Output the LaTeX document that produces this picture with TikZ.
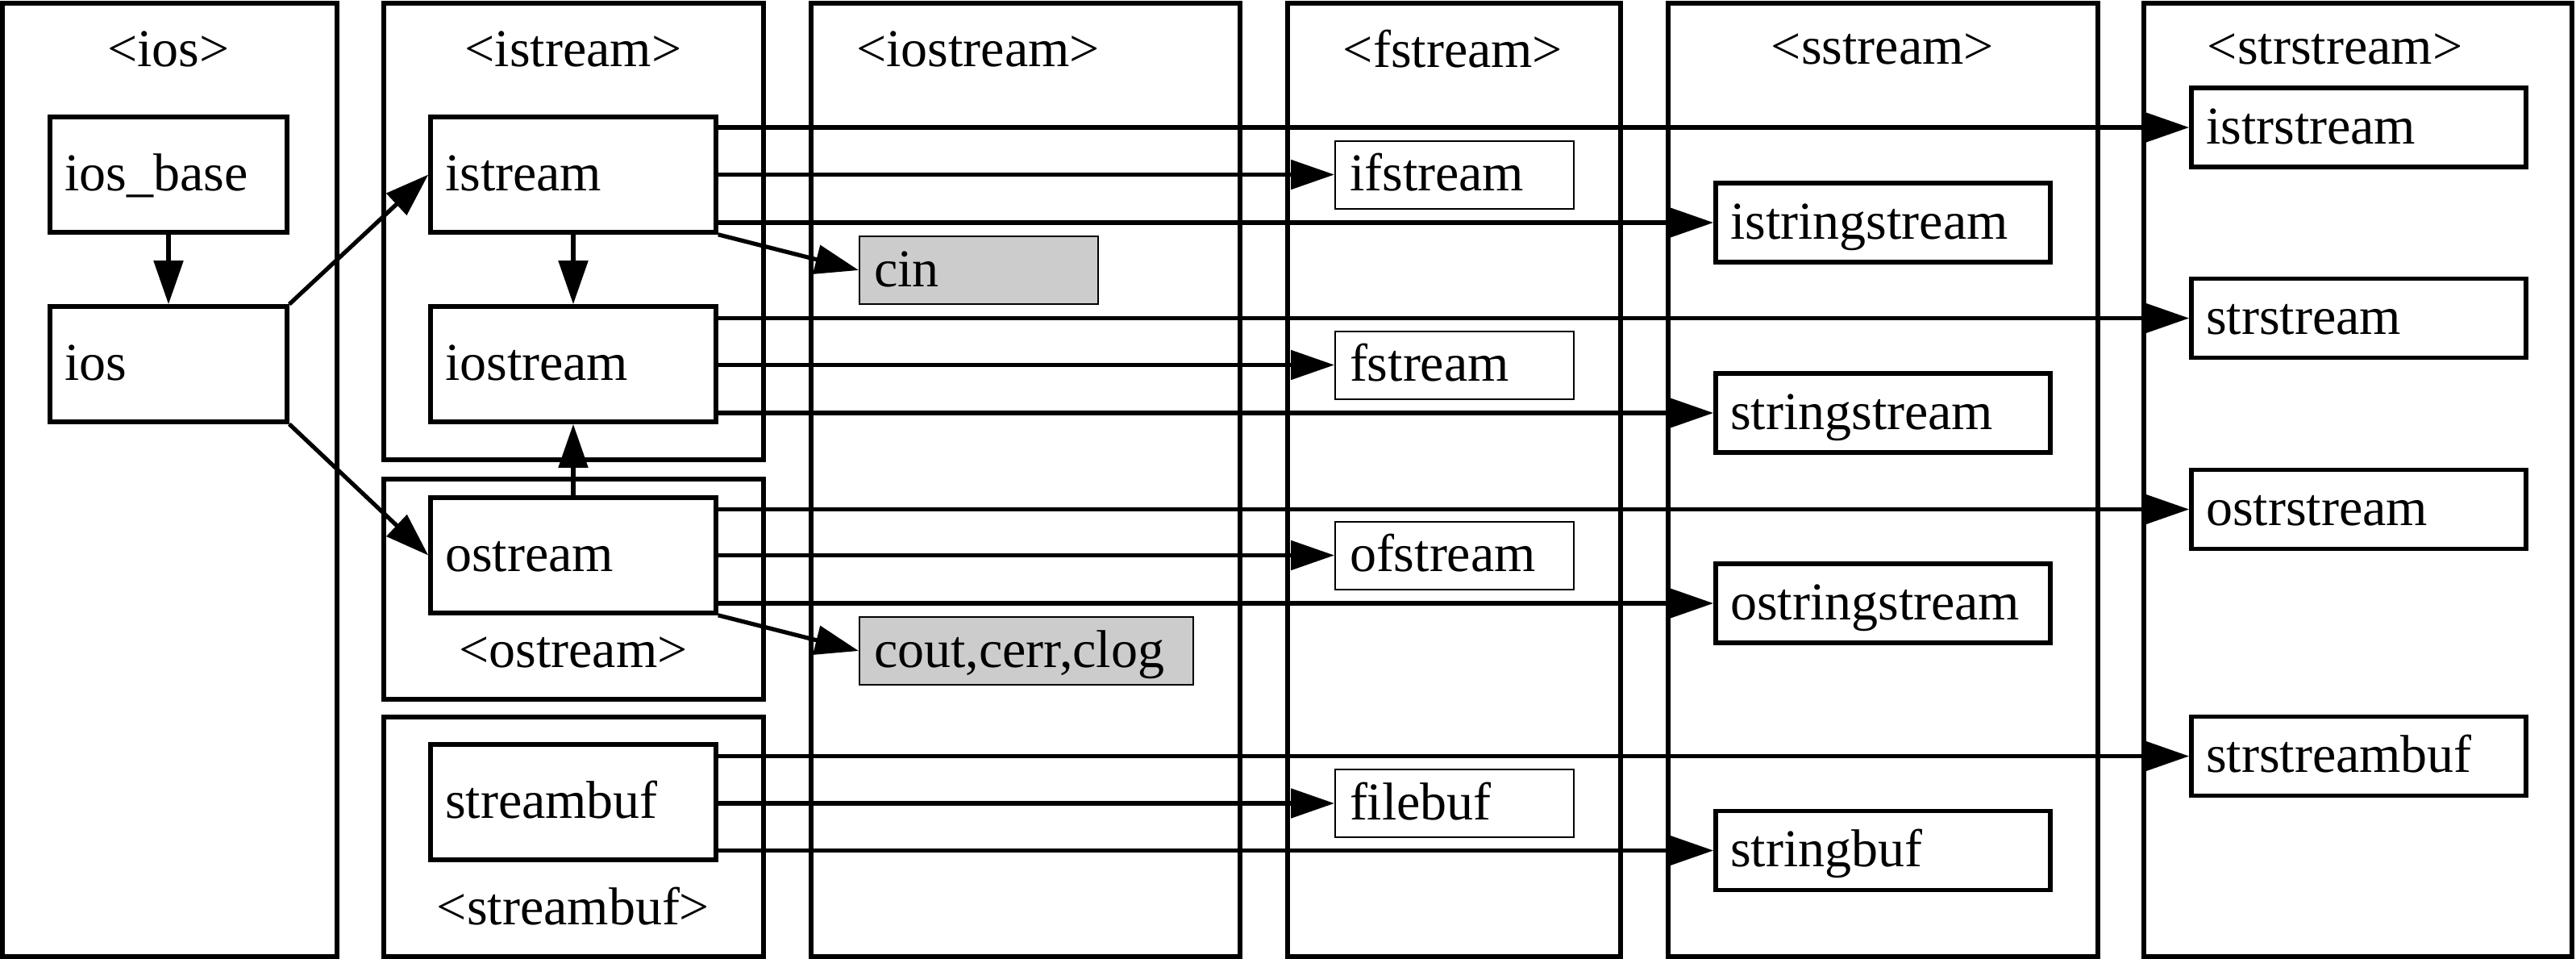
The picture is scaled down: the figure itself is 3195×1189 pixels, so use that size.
\documentclass[tikz,border=0pt]{standalone}
\usepackage{fontspec}
\setmainfont{Liberation Serif}
\usetikzlibrary{arrows.meta,fit}
\begin{document}
\begin{tikzpicture}[x=0.25pt,y=-0.25pt,
  font=\fontsize{16.5pt}{18pt}\selectfont,
  line join=miter,
  col/.style={draw, line width=1.4pt, inner sep=0pt},
  title/.style={inner sep=0pt, anchor=center},
  bw/.style={text width=#1},
  basebox/.style={draw, align=left, inner xsep=4.5pt, inner ysep=0pt, text height=12pt, text depth=2pt},
  bigbox/.style={basebox, line width=1.4pt, minimum height=35.75pt},
  thickbox/.style={basebox, line width=1.4pt, minimum height=24.5pt, text width=94.75pt},
  thinbox/.style={basebox, line width=0.5pt, minimum height=21pt},
  graybox/.style={thinbox, fill=black!20},
  arr/.style={line width=1.3pt, -{Triangle[length=13.5pt,width=9pt]}}
]
\useasboundingbox (0,0) rectangle (3195,1189);

% columns
\node[col, fit={(3,4) (418,1186)}] (colios) {};
\node[col, fit={(476,4) (947,570)}] (colistream) {};
\node[col, fit={(476,594) (947,867)}] (colostream) {};
\node[col, fit={(476,889) (947,1186)}] (colstreambuf) {};
\node[col, fit={(1006,4) (1538,1186)}] (coliostream) {};
\node[col, fit={(1597,4) (2010,1186)}] (colfstream) {};
\node[col, fit={(2069,4) (2602,1186)}] (colsstream) {};
\node[col, fit={(2659,4) (3190,1186)}] (colstrstream) {};

% titles
\node[title] (tios) at (209,61) {<ios>};
\node[title] (tistream) at (711,61) {<istream>};
\node[title] (tiostream) at (1213,61) {<iostream>};
\node[title] (tfstream) at (1802,61) {<fstream>};
\node[title] (tsstream) at (2335,61) {<sstream>};
\node[title] (tstrstream) at (2896,61) {<strstream>};
\node[title] (tostream) at (711,809) {<ostream>};
\node[title] (tstreambuf) at (711,1124) {<streambuf>};

% boxes
\node[bigbox, bw=64.5pt] (iosbase) at (209,216.5) {ios\_base};
\node[bigbox, bw=64.5pt] (ios) at (209,451.5) {ios};
\node[bigbox, bw=79.5pt] (istream) at (711,216.5) {istream};
\node[bigbox, bw=79.5pt] (iostream) at (711,451.5) {iostream};
\node[bigbox, bw=79.5pt] (ostream) at (711,688.5) {ostream};
\node[bigbox, bw=79.5pt] (streambuf) at (711,994.5) {streambuf};

\node[graybox, bw=65pt] (cin) at (1214,335) {cin};
\node[graybox, bw=94.5pt] (cout) at (1273,807) {cout,cerr,clog};

\node[thinbox, bw=65pt] (ifstream) at (1804,216.5) {ifstream};
\node[thinbox, bw=65pt] (fstream) at (1804,452.5) {fstream};
\node[thinbox, bw=65pt] (ofstream) at (1804,688.5) {ofstream};
\node[thinbox, bw=65pt] (filebuf) at (1804,996) {filebuf};

\node[thickbox] (istringstream) at (2335.5,276) {istringstream};
\node[thickbox] (stringstream) at (2335.5,512) {stringstream};
\node[thickbox] (ostringstream) at (2335.5,748) {ostringstream};
\node[thickbox] (stringbuf) at (2335.5,1054.5) {stringbuf};

\node[thickbox] (istrstream) at (2925.5,158) {istrstream};
\node[thickbox] (strstream) at (2925.5,394.5) {strstream};
\node[thickbox] (ostrstream) at (2925.5,631.5) {ostrstream};
\node[thickbox] (strstreambuf) at (2925.5,937.5) {strstreambuf};

% vertical / diagonal arrows
\draw[arr] (iosbase) -- (ios);
\draw[arr] (istream) -- (iostream);
\draw[arr] (ostream) -- (iostream);
\draw[arr] (ios.north east) -- (istream.west);
\draw[arr] (ios.south east) -- (ostream.west);
\draw[arr] (istream.south east) -- (cin.west);
\draw[arr] (ostream.south east) -- (cout.west);

% horizontal arrows
\draw[arr] (istream.east |- istrstream.west) -- (istrstream.west);
\draw[arr] (istream.east |- ifstream.west) -- (ifstream.west);
\draw[arr] (istream.east |- istringstream.west) -- (istringstream.west);
\draw[arr] (iostream.east |- strstream.west) -- (strstream.west);
\draw[arr] (iostream.east |- fstream.west) -- (fstream.west);
\draw[arr] (iostream.east |- stringstream.west) -- (stringstream.west);
\draw[arr] (ostream.east |- ostrstream.west) -- (ostrstream.west);
\draw[arr] (ostream.east |- ofstream.west) -- (ofstream.west);
\draw[arr] (ostream.east |- ostringstream.west) -- (ostringstream.west);
\draw[arr] (streambuf.east |- strstreambuf.west) -- (strstreambuf.west);
\draw[arr] (streambuf.east |- filebuf.west) -- (filebuf.west);
\draw[arr] (streambuf.east |- stringbuf.west) -- (stringbuf.west);
\end{tikzpicture}
\end{document}
